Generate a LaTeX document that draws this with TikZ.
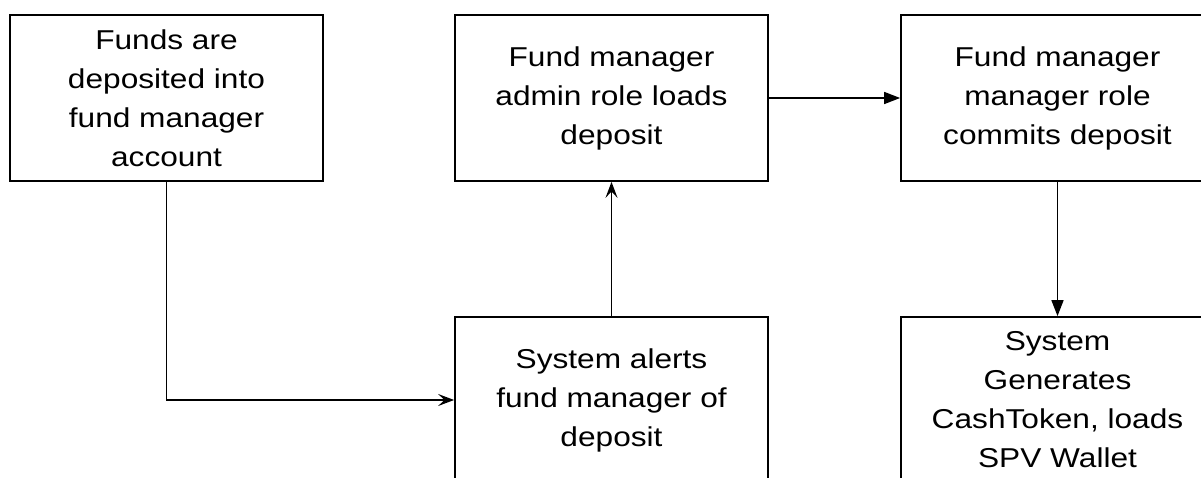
\documentclass[tikz,border=0pt]{standalone}
\usepackage{fontspec}
\setmainfont{Liberation Sans}[FakeStretch=1.16]
\usetikzlibrary{arrows.meta}

\begin{document}
\begin{tikzpicture}[x=0.025cm, y=-0.025cm,
  stepbox/.style={draw, line width=1.2pt, minimum width=7.825cm, minimum height=4.15cm,
    inner sep=0pt, align=center, font=\fontsize{19.4}{27.7}\selectfont},
  flow/.style={line width=1.1pt, -{Triangle[length=0.4cm, width=0.3cm]}},
  notify/.style={line width=1.1pt, -{Stealth[length=0.4cm, width=0.3cm, inset=0.16cm]}}]
\path[use as bounding box, clip] (0, 0) rectangle (1201, 478);

\node[stepbox] (funds) at (166.5, 98) {Funds are\\deposited into\\fund manager\\account};
\node[stepbox] (admin) at (611.5, 98) {Fund manager\\admin role loads\\deposit};
\node[stepbox] (commit) at (1057.5, 98) {Fund manager\\manager role\\commits deposit};

\node[stepbox] (alerts) at (611.5, 400) {System alerts\\fund manager of\\deposit};
\node[stepbox] (token) at (1057.5, 400) {System\\Generates\\CashToken, loads\\SPV Wallet};

\draw[notify] (funds.south) |- (alerts.west);
\draw[notify] (alerts.north) -- (admin.south);
\draw[flow] (admin.east) -- (commit.west);
\draw[flow] (commit.south) -- (token.north);
\end{tikzpicture}
\end{document}
